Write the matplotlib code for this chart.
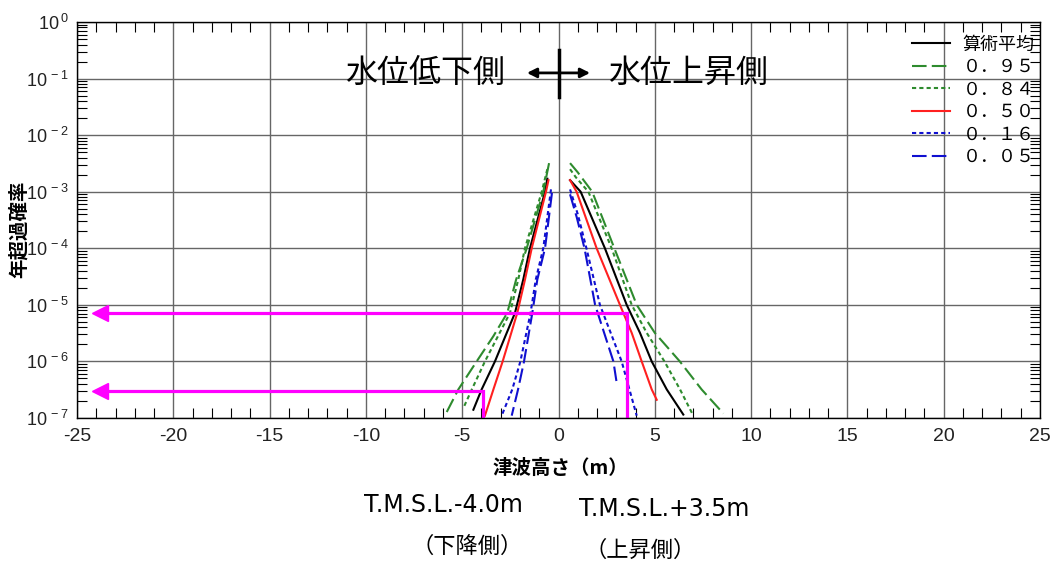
import numpy as np
import matplotlib
matplotlib.use("Agg")
import matplotlib.pyplot as plt
from matplotlib.ticker import FixedLocator, MultipleLocator, LogLocator, NullFormatter

plt.rcParams['font.family'] = ['Noto Sans CJK JP', 'DejaVu Sans']
plt.rcParams['mathtext.fontset'] = 'custom'
plt.rcParams['mathtext.rm'] = 'Liberation Sans'
plt.rcParams['axes.unicode_minus'] = False

# 水位低下側 (x < 0)
x_mean_l = [-0.58, -0.70, -1.48, -1.83, -2.26, -3.30, -3.99, -4.42]
p_mean_l = [1.7e-3, 1e-3, 1e-4, 2.8e-5, 7.2e-6, 1e-6, 3.2e-7, 1.4e-7]
x_95_l = [-0.49, -0.79, -1.65, -2.2, -2.66, -3.38, -4.25, -5.2, -5.9]
p_95_l = [3.2e-3, 1e-3, 1e-4, 2.8e-5, 7.2e-6, 2.8e-6, 1e-6, 3.2e-7, 1.1e-7]
x_84_l = [-0.58, -0.87, -1.74, -2.09, -2.52, -3.82, -4.5, -4.94]
p_84_l = [2.5e-3, 1e-3, 1e-4, 2.8e-5, 7.2e-6, 1e-6, 3.2e-7, 1.5e-7]
x_50_l = [-0.52, -0.65, -1.39, -1.74, -2.14, -2.90, -3.38, -3.82]
p_50_l = [1.6e-3, 1e-3, 1e-4, 2.8e-5, 7.2e-6, 1e-6, 3.2e-7, 1.1e-7]
x_16_l = [-0.39, -0.79, -1.18, -1.45, -1.98, -2.4, -2.95]
p_16_l = [1.1e-3, 1e-4, 2.8e-5, 7.2e-6, 1e-6, 3.2e-7, 1.1e-7]
x_05_l = [-0.34, -0.7, -1.1, -1.36, -1.79, -2.1, -2.43]
p_05_l = [9.5e-4, 1e-4, 2.8e-5, 7.2e-6, 1e-6, 3.2e-7, 1.1e-7]

# 水位上昇側 (x > 0)
x_mean_r = [0.6, 1.15, 2.41, 3.54, 4.23, 4.84, 5.62, 6.48]
p_mean_r = [1.6e-3, 1e-3, 1e-4, 1e-5, 3.2e-6, 1e-6, 3.2e-7, 1.15e-7]
x_95_r = [0.6, 1.0, 1.75, 2.9, 4.06, 5.0, 6.3, 7.43, 8.56]
p_95_r = [3.2e-3, 2.2e-3, 1e-3, 1e-4, 1e-5, 3.2e-6, 1e-6, 3.2e-7, 1.2e-7]
x_84_r = [0.6, 0.9, 1.55, 2.76, 3.80, 4.58, 5.5, 6.31, 7.0]
p_84_r = [2.5e-3, 1.8e-3, 1e-3, 1e-4, 1e-5, 3.2e-6, 1e-6, 3.2e-7, 1.1e-7]
x_50_r = [0.6, 0.94, 1.98, 3.19, 3.8, 4.32, 4.84, 5.10]
p_50_r = [1.6e-3, 1e-3, 1e-4, 1e-5, 3.2e-6, 1e-6, 3.2e-7, 2.1e-7]
x_16_r = [0.6, 1.0, 1.45, 2.15, 3.28, 4.06]
p_16_r = [1.1e-3, 4e-4, 1e-4, 1e-5, 1e-6, 1.1e-7]
x_05_r = [0.6, 0.95, 1.35, 1.9, 2.85, 3.02]
p_05_r = [9e-4, 3.5e-4, 1e-4, 1e-5, 1e-6, 4.2e-7]

labels = ["算術平均", "０．９５", "０．８４", "０．５０", "０．１６", "０．０５"]

# 津波高さの読み取り (magenta)
up_h, up_p = 3.55, 7.2e-6
down_h, down_p = -3.92, 3.0e-7

green = "#2e8b2e"
red = "#ff2020"
blue = "#1010d0"
mag = "#ff00ff"

fig = plt.figure(figsize=(10.63, 5.64), dpi=100)
ax = fig.add_axes([77 / 1063, 1 - 418 / 564, (1040 - 77) / 1063, (418 - 22) / 564])

styles = [
    dict(color="black", ls="-"),
    dict(color=green, ls=(0, (7, 2.5))),
    dict(color=green, ls=(0, (2, 1.5))),
    dict(color=red, ls="-"),
    dict(color=blue, ls=(0, (2, 1.5))),
    dict(color=blue, ls=(0, (7, 2.5))),
]
left = [(x_mean_l, p_mean_l), (x_95_l, p_95_l), (x_84_l, p_84_l),
        (x_50_l, p_50_l), (x_16_l, p_16_l), (x_05_l, p_05_l)]
right = [(x_mean_r, p_mean_r), (x_95_r, p_95_r), (x_84_r, p_84_r),
         (x_50_r, p_50_r), (x_16_r, p_16_r), (x_05_r, p_05_r)]
handles = []
for st, lab, (xl, pl), (xr, pr) in zip(styles, labels, left, right):
    h = ax.plot(xl, pl, lw=1.5, label=lab, **st)[0]
    ax.plot(xr, pr, lw=1.5, **st)
    handles.append(h)

ax.set_yscale("log")
ax.set(xlim=[-25, 25], ylim=[1e-7, 1])

# magenta lines
ax.plot([up_h, up_h, -23.6], [1e-7, up_p, up_p], color=mag, lw=2.3, solid_joinstyle="miter")
ax.plot(-23.83, up_p, marker="<", ms=11, color=mag)
ax.plot([down_h, down_h, -23.6], [1e-7, down_p, down_p], color=mag, lw=2.3, solid_joinstyle="miter")
ax.plot(-23.83, down_p, marker="<", ms=11, color=mag)

# 上下の矢印
ax.annotate("", xy=(-1.64, 10 ** -0.9), xytext=(1.64, 10 ** -0.9),
            arrowprops=dict(arrowstyle="<|-|>", color="black", lw=2, mutation_scale=14,
                            shrinkA=0, shrinkB=0))
ax.plot([0, 0], [0.32, 0.047], color="black", lw=2.5)
ax.text(-6.93, 10 ** -0.9, "水位低下側", fontsize=23, ha="center", va="center")
ax.text(6.72, 10 ** -0.9, "水位上昇側", fontsize=23, ha="center", va="center")

# grid and ticks
ax.grid(True, which="major", color="#666666", lw=1.0)
ax.xaxis.set_major_locator(MultipleLocator(5))
ax.xaxis.set_minor_locator(MultipleLocator(1))
ax.yaxis.set_major_locator(FixedLocator([1e-7, 1e-6, 1e-5, 1e-4, 1e-3, 1e-2, 1e-1, 1]))
ax.yaxis.set_minor_locator(LogLocator(base=10, subs=np.arange(2, 10), numticks=20))
ax.yaxis.set_minor_formatter(NullFormatter())
ax.set_yticklabels([r"$\mathregular{10^{\,%d}}$" % e for e in range(-7, 1)])
ax.tick_params(which="both", direction="in", top=True, right=True, colors="black")
ax.tick_params(axis="x", which="major", length=0, labelsize=14, pad=7)
ax.tick_params(axis="y", which="major", length=0, labelsize=13, pad=6)
ax.tick_params(which="minor", length=7, width=0.8)
for lab in ax.get_xticklabels() + ax.get_yticklabels():
    lab.set_family(["Liberation Sans", "DejaVu Sans"])
    lab.set_color("#222222")
for s in ax.spines.values():
    s.set_linewidth(1.0)

ax.legend(handles=handles, loc="upper right", bbox_to_anchor=(0.998, 0.975), frameon=False,
          fontsize=13, handlelength=2.1, handletextpad=0.7, labelspacing=0.25,
          borderaxespad=0.0, borderpad=0.2)

ax.set_ylabel("年超過確率", fontsize=14, fontweight="bold", labelpad=2)
ax.yaxis.set_label_coords(-0.05, 0.477)
fig.text(560 / 1063, 1 - 468 / 564, "津波高さ（m）", fontsize=14, fontweight="bold",
         ha="center", va="center")
fig.text(443 / 1063, 1 - 505 / 564, "T.M.S.L.-4.0m", fontsize=17, ha="center", va="center",
         family="DejaVu Sans")
fig.text(664 / 1063, 1 - 509 / 564, "T.M.S.L.+3.5m", fontsize=17, ha="center", va="center",
         family="DejaVu Sans")
fig.text(467 / 1063, 1 - 546 / 564, "（下降側）", fontsize=16, ha="center", va="center")
fig.text(640 / 1063, 1 - 550 / 564, "（上昇側）", fontsize=16, ha="center", va="center")

fig.savefig("out.png", dpi=100)
